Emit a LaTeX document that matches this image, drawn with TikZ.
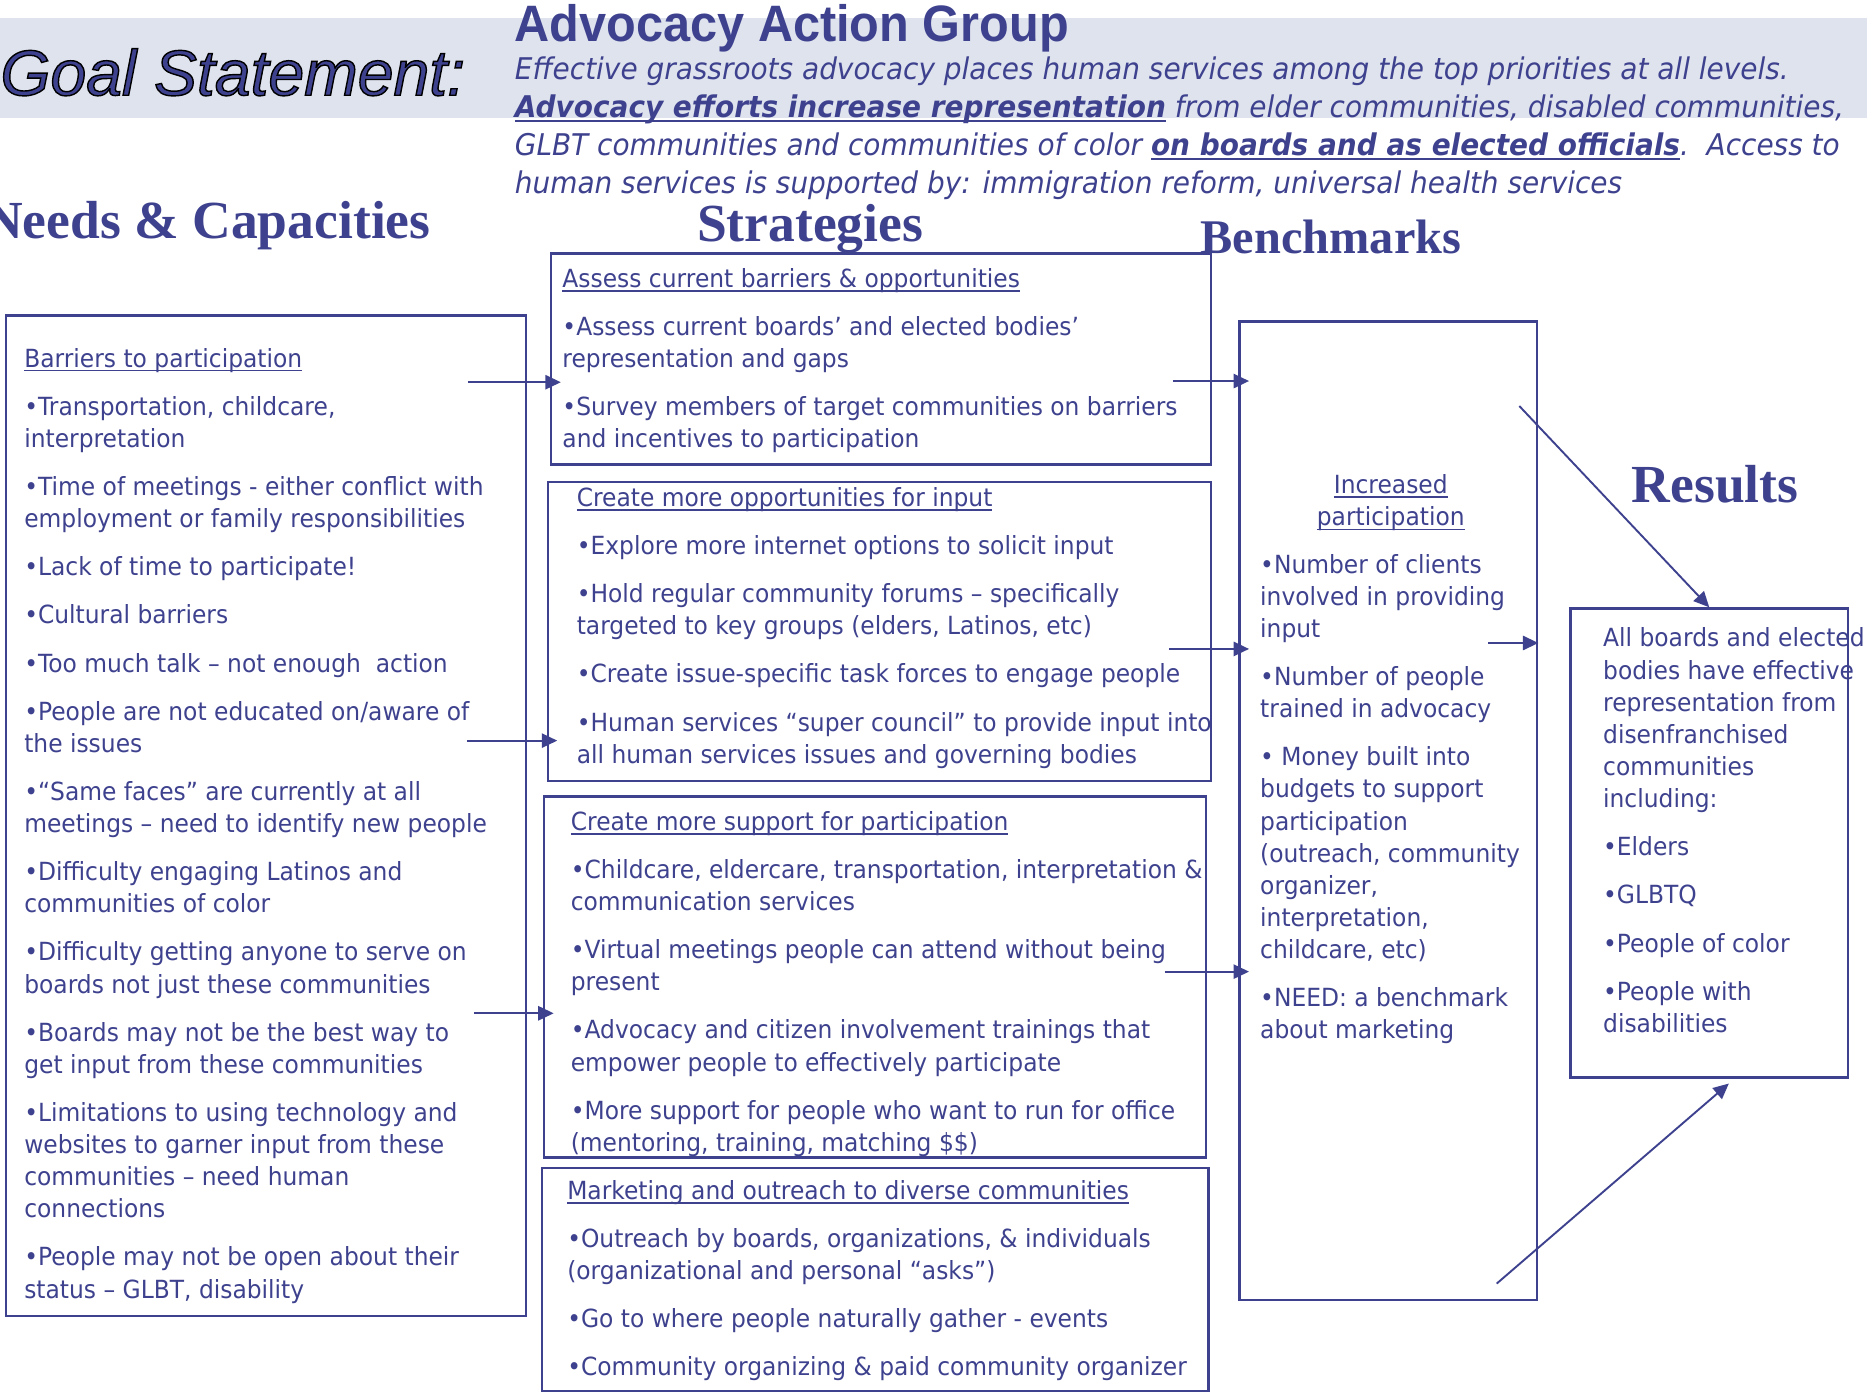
\documentclass[tikz,border=0pt]{standalone}
\usepackage{fontspec}
\usetikzlibrary{arrows.meta,fit,calc}
\setmainfont{DejaVu Sans}[FakeStretch=0.935]
\newfontfamily\goalfont{Liberation Sans}
\newfontfamily\groupfont{Liberation Sans}[FakeStretch=0.95]
\newfontfamily\colfont{Liberation Serif}
\definecolor{navy}{HTML}{3E428E}
\definecolor{band}{HTML}{DFE3EE}
\newsavebox\ulbox
\newcommand\ulinetext[2][0.05em]{\sbox\ulbox{#2}\rlap{\rule[-0.17em]{\wd\ulbox}{#1}}\usebox\ulbox}
\tikzset{
	frame/.style={draw=navy, line width=1pt, inner sep=0pt},
	txt/.style={anchor=north west, inner sep=0pt, align=left, text=navy,
		font=\fontsize{10.5pt}{13.5pt}\selectfont},
	colhead/.style={anchor=base west, inner sep=0pt, text=navy,
		font=\colfont\bfseries\fontsize{22.5pt}{27pt}\selectfont},
	arr/.style={draw=navy, line width=0.8pt, -{Triangle[length=6.5pt,width=6pt]}, shorten >=-4.5pt}
}
\begin{document}
\begin{tikzpicture}[x=0.5pt, y=-0.5pt]
	\useasboundingbox (0,0) rectangle (1568,1175);
	% Goal band
	\fill[band] (0,15) rectangle (1568,99);
	\node[anchor=base west, inner sep=0pt, text=navy, font=\goalfont\itshape\fontsize{27pt}{30pt}\selectfont] (goal) at (0,80)
		{\special{pdf:literal direct 2 Tr 0.6 w 0 0 0 RG}Goal Statement:\special{pdf:literal direct 0 Tr}};
	\node[anchor=base west, inner sep=0pt, text=navy, font=\groupfont\bfseries\fontsize{21.5pt}{24pt}\selectfont] (group) at (432,35) {Advocacy Action Group};
	\node[anchor=north west, inner sep=0pt, align=left, text=navy, font=\itshape\fontsize{12.55pt}{16pt}\selectfont] (goaltext) at (432,47) {%
		Effective grassroots advocacy places human services among the top priorities at all levels.\\
		{\bfseries\ulinetext[0.08em]{Advocacy efforts increase representation}} from elder communities, disabled communities,\\
		GLBT communities and communities of color {\bfseries\ulinetext[0.08em]{on boards and as elected officials}}.\ \ Access to\\
		human services is supported by: immigration reform, universal health services};
	% Column heads
	\node[colhead, anchor=base east] (needhead) at (362,200) {Needs \& Capacities};
	\node[colhead] (strathead) at (585,203) {Strategies};
	\node[colhead, font=\colfont\bfseries\fontsize{20.3pt}{25pt}\selectfont] (benchhead) at (1008,213) {Benchmarks};
	\node[colhead] (reshead) at (1370,422) {Results};
	% Boxes
	\node[frame, fit={(5,265) (442,1105)}] (needbox) {};
	\node[frame, fit={(463,213) (1017,390)}] (stratA) {};
	\node[frame, fit={(460,405) (1017,656)}] (stratB) {};
	\node[frame, fit={(457,669) (1013,972)}] (stratC) {};
	\node[frame, fit={(455,981) (1015,1168)}] (stratD) {};
	\node[frame, fit={(1041,270) (1291,1092)}] (benchbox) {};
	\node[frame, fit={(1319,511) (1552,905)}] (resbox) {};
	% Needs & capacities
	\node[txt] (needtext) at (20,292) {%
		\ulinetext{Barriers to participation}\\[6.7pt]
		•Transportation, childcare,\\
		interpretation\\[6.7pt]
		•Time of meetings - either conflict with\\
		employment or family responsibilities\\[6.7pt]
		•Lack of time to participate!\\[6.7pt]
		•Cultural barriers\\[6.7pt]
		•Too much talk – not enough\ \ action\\[6.7pt]
		•People are not educated on/aware of\\
		the issues\\[6.7pt]
		•“Same faces” are currently at all\\
		meetings – need to identify new people\\[6.7pt]
		•Difficulty engaging Latinos and\\
		communities of color\\[6.7pt]
		•Difficulty getting anyone to serve on\\
		boards not just these communities\\[6.7pt]
		•Boards may not be the best way to\\
		get input from these communities\\[6.7pt]
		•Limitations to using technology and\\
		websites to garner input from these\\
		communities – need human\\
		connections\\[6.7pt]
		•People may not be open about their\\
		status – GLBT, disability};
	% Strategies
	\node[txt] (stratAtext) at (472,225) {%
		\ulinetext{Assess current barriers \& opportunities}\\[6.7pt]
		•Assess current boards’ and elected bodies’\\
		representation and gaps\\[6.7pt]
		•Survey members of target communities on barriers\\
		and incentives to participation};
	\node[txt] (stratBtext) at (484,409) {%
		\ulinetext{Create more opportunities for input}\\[6.7pt]
		•Explore more internet options to solicit input\\[6.7pt]
		•Hold regular community forums – specifically\\
		targeted to key groups (elders, Latinos, etc)\\[6.7pt]
		•Create issue-specific task forces to engage people\\[6.7pt]
		•Human services “super council” to provide input into\\
		all human services issues and governing bodies};
	\node[txt] (stratCtext) at (479,681) {%
		\ulinetext{Create more support for participation}\\[6.7pt]
		•Childcare, eldercare, transportation, interpretation \&\\
		communication services\\[6.7pt]
		•Virtual meetings people can attend without being\\
		present\\[6.7pt]
		•Advocacy and citizen involvement trainings that\\
		empower people to effectively participate\\[6.7pt]
		•More support for people who want to run for office\\
		(mentoring, training, matching \$\$)};
	\node[txt] (stratDtext) at (476,991) {%
		\ulinetext{Marketing and outreach to diverse communities}\\[6.7pt]
		•Outreach by boards, organizations, \& individuals\\
		(organizational and personal “asks”)\\[6.7pt]
		•Go to where people naturally gather - events\\[6.7pt]
		•Community organizing \& paid community organizer};
	% Benchmarks
	\node[txt, anchor=north, align=center] (benchtitle) at (1168,398) {%
		\ulinetext{Increased}\\
		\ulinetext{participation}};
	\node[txt] (benchtext) at (1058,465) {%
		•Number of clients\\
		involved in providing\\
		input\\[6.7pt]
		•Number of people\\
		trained in advocacy\\[6.7pt]
		• Money built into\\
		budgets to support\\
		participation\\
		(outreach, community\\
		organizer,\\
		interpretation,\\
		childcare, etc)\\[6.7pt]
		•NEED: a benchmark\\
		about marketing};
	% Results
	\node[txt] (restext) at (1346,527) {%
		All boards and elected\\
		bodies have effective\\
		representation from\\
		disenfranchised\\
		communities\\
		including:\\[6.7pt]
		•Elders\\[6.7pt]
		•GLBTQ\\[6.7pt]
		•People of color\\[6.7pt]
		•People with\\
		disabilities};
	% Arrows
	\coordinate (n1) at (393,321);
	\coordinate (n2) at (392,622);
	\coordinate (n3) at (398,851);
	\draw[arr] (n1) -- (n1 -| stratA.west);
	\draw[arr] (n2) -- (n2 -| stratB.west);
	\draw[arr] (n3) -- (n3 -| stratC.west);
	\coordinate (s1) at (985,320);
	\coordinate (s2) at (982,545);
	\coordinate (s3) at (978,816);
	\draw[arr] (s1) -- (s1 -| benchbox.west);
	\draw[arr] (s2) -- (s2 -| benchbox.west);
	\draw[arr] (s3) -- (s3 -| benchbox.west);
	\coordinate (b1) at (1250,540);
	\coordinate (b2) at (1276,341);
	\coordinate (b3) at (1257,1078);
	\draw[arr, shorten >=0pt] (b1) -- (b1 -| benchbox.east);
	\draw[arr, shorten >=0pt] (b2) -- (resbox.north);
	\draw[arr, shorten >=0pt] (b3) -- ($(resbox.south west)!0.57!(resbox.south east)+(0,4)$);
\end{tikzpicture}
\end{document}
